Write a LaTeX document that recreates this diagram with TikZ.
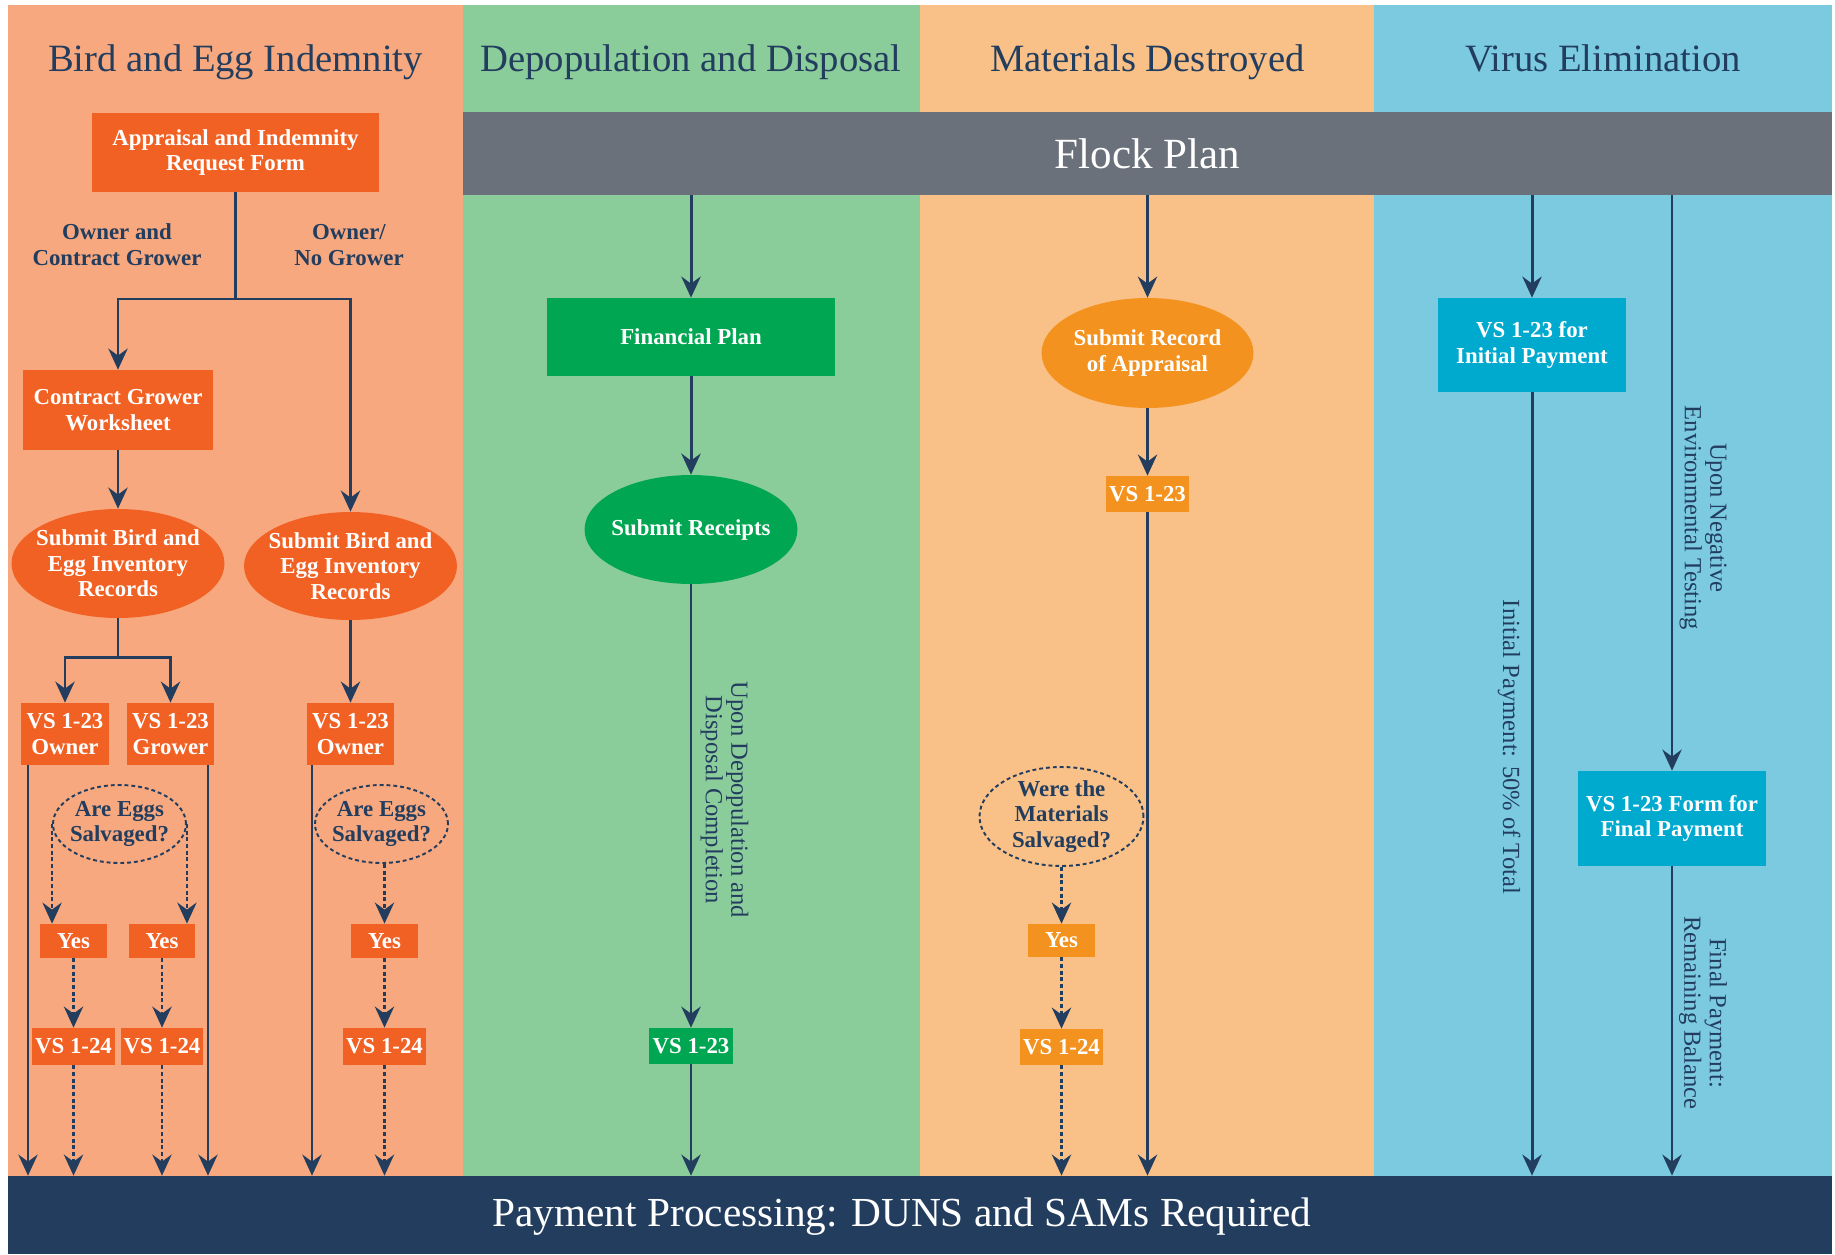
\documentclass[tikz,border=0pt]{standalone}
\usepackage{fontspec}
\setmainfont{Liberation Serif}
\usepackage{xcolor}
\usepackage{tikz}
\usetikzlibrary{arrows.meta, positioning, shapes.geometric}

\definecolor{navy}{RGB}{34,61,94}
\definecolor{colbird}{RGB}{248,168,126}
\definecolor{coldep}{RGB}{139,204,155}
\definecolor{colmat}{RGB}{249,193,135}
\definecolor{colvir}{RGB}{123,202,224}
\definecolor{flockgray}{RGB}{107,113,123}
\definecolor{boxorange}{RGB}{242,97,36}
\definecolor{boxgreen}{RGB}{0,166,81}
\definecolor{boxamber}{RGB}{243,146,31}
\definecolor{boxcyan}{RGB}{0,169,206}

\begin{document}
\begin{tikzpicture}[x=0.02cm, y=-0.02cm]
		\tikzstyle{box} = [rectangle, inner sep=0pt, text=white, align=center, font=\fontsize{13}{14.5}\selectfont\bfseries]
		\tikzstyle{oval} = [ellipse, inner xsep=-6pt, inner ysep=-3pt, text=white, align=center, font=\fontsize{13}{14.5}\selectfont\bfseries]
		\tikzstyle{ask} = [oval, draw=navy, line width=1.1pt, dash pattern=on 2.2pt off 1.7pt, text=navy]
		\tikzstyle{branch} = [text=navy, align=center, font=\fontsize{13}{14.8}\selectfont\bfseries]
		\tikzstyle{lanetitle} = [anchor=base, text=navy, font=\fontsize{22}{26}\selectfont]
		\tikzstyle{note} = [rotate=-90, align=center, text=navy, font=\fontsize{14}{14.5}\selectfont]
		\tikzstyle{arrow} = [draw=navy, line width=1.7pt, -{Stealth[length=12pt, width=11pt, inset=4pt]}]
		\tikzstyle{arrowthin} = [arrow, line width=1.3pt]
		\tikzstyle{darrow} = [arrow, line width=1.4pt, dash pattern=on 2.2pt off 1.6pt]

		\useasboundingbox (0,0) rectangle (1835,1254);
		\fill[white] (0,0) rectangle (1835,1254);
		\fill[colbird] (8,5) rectangle (463,1176);
		\fill[coldep] (463,5) rectangle (920,1176);
		\fill[colmat] (920,5) rectangle (1374,1176);
		\fill[colvir] (1374,5) rectangle (1832,1176);

		\node[lanetitle] (h1) at (235.5, 71) {Bird and Egg Indemnity};
		\node[lanetitle] (h2) at (691, 71) {Depopulation and Disposal};
		\node[lanetitle] (h3) at (1147.5, 71) {Materials Destroyed};
		\node[lanetitle] (h4) at (1603, 71) {Virus Elimination};

		\node[fill=flockgray, text=white, inner sep=0pt, minimum width=27.38cm, minimum height=1.66cm, font=\fontsize{24.5}{28}\selectfont] (flock) at (1147.5, 153.5) {Flock Plan};
		\node[fill=navy, inner sep=0pt, minimum width=36.48cm, minimum height=1.56cm] (pay) at (920, 1215) {};
		\node[text=white, font=\fontsize{23.5}{28}\selectfont] (paytext) at (902, 1217) {Payment Processing: DUNS and SAMs Required};

		\node[box, fill=boxorange, minimum width=5.74cm, minimum height=1.58cm] (o1) at (235.5, 152.5) {Appraisal and Indemnity\\Request Form};
		\node[branch] (l1) at (117, 245) {Owner and\\Contract Grower};
		\node[branch] (l2) at (349, 245) {Owner/\\No Grower};
		\node[box, fill=boxorange, minimum width=3.8cm, minimum height=1.6cm] (o2) at (118, 410) {Contract Grower\\Worksheet};
		\node[oval, fill=boxorange, minimum width=4.26cm, minimum height=2.18cm] (o3) at (118, 563.5) {Submit Bird and\\Egg Inventory\\Records};
		\node[oval, fill=boxorange, minimum width=4.26cm, minimum height=2.16cm] (o4) at (350.5, 566) {Submit Bird and\\Egg Inventory\\Records};
		\node[box, fill=boxorange, minimum width=1.76cm, minimum height=1.24cm] (o5) at (65, 734) {VS 1-23\\Owner};
		\node[box, fill=boxorange, minimum width=1.74cm, minimum height=1.24cm] (o6) at (170.5, 734) {VS 1-23\\Grower};
		\node[box, fill=boxorange, minimum width=1.76cm, minimum height=1.24cm] (o7) at (350.5, 734) {VS 1-23\\Owner};
		\node[ask, minimum width=2.66cm, minimum height=1.56cm] (o8) at (119.5, 824) {Are Eggs\\Salvaged?};
		\node[ask, minimum width=2.66cm, minimum height=1.56cm] (o9) at (381.5, 824) {Are Eggs\\Salvaged?};
		\node[box, fill=boxorange, minimum width=1.34cm, minimum height=0.68cm] (o10) at (73.5, 941) {Yes};
		\node[box, fill=boxorange, minimum width=1.34cm, minimum height=0.68cm] (o11) at (162, 941) {Yes};
		\node[box, fill=boxorange, minimum width=1.34cm, minimum height=0.68cm] (o12) at (384.5, 941) {Yes};
		\node[box, fill=boxorange, minimum width=1.66cm, minimum height=0.74cm] (o13) at (73.5, 1046.5) {VS 1-24};
		\node[box, fill=boxorange, minimum width=1.66cm, minimum height=0.74cm] (o14) at (162, 1046.5) {VS 1-24};
		\node[box, fill=boxorange, minimum width=1.66cm, minimum height=0.74cm] (o15) at (384.5, 1046.5) {VS 1-24};

		\node[box, fill=boxgreen, minimum width=5.76cm, minimum height=1.56cm] (g1) at (691, 337) {Financial Plan};
		\node[oval, fill=boxgreen, minimum width=4.26cm, minimum height=2.18cm] (g2) at (691, 529.5) {Submit Receipts};
		\node[box, fill=boxgreen, minimum width=1.68cm, minimum height=0.72cm] (g3) at (691, 1046) {VS 1-23};
		\node[note] (n1) at (724.5, 800) {Upon Depopulation and\\Disposal Completion};

		\node[oval, fill=boxamber, minimum width=4.24cm, minimum height=2.2cm] (m1) at (1147.5, 353) {Submit Record\\of Appraisal};
		\node[box, fill=boxamber, minimum width=1.66cm, minimum height=0.72cm] (m2) at (1147.5, 494) {VS 1-23};
		\node[ask, minimum width=3.28cm, minimum height=1.98cm] (m3) at (1061.5, 816.5) {Were the\\Materials\\Salvaged?};
		\node[box, fill=boxamber, minimum width=1.34cm, minimum height=0.66cm] (m4) at (1061.5, 940.5) {Yes};
		\node[box, fill=boxamber, minimum width=1.66cm, minimum height=0.72cm] (m5) at (1061.5, 1047) {VS 1-24};

		\node[box, fill=boxcyan, minimum width=3.76cm, minimum height=1.88cm] (v1) at (1532, 345) {VS 1-23 for\\Initial Payment};
		\node[box, fill=boxcyan, minimum width=3.76cm, minimum height=1.9cm] (v2) at (1672, 818.5) {VS 1-23 Form for\\Final Payment};
		\node[note] (n2) at (1509, 747) {Initial Payment: 50\% of Total};
		\node[note] (n3) at (1703, 518) {Upon Negative\\Environmental Testing};
		\node[note] (n4) at (1703, 1013) {Final Payment:\\Remaining Balance};

		\coordinate (j1) at (235.5, 299);
		\coordinate (j2) at (118, 657);
		\draw [arrow] (o1) -- (j1) -| (o2);
		\draw [arrow] (j1) -| (o4);
		\draw [arrow] (o2) -- (o3);
		\draw [arrow] (o3) -- (j2) -| (o5);
		\draw [arrow] (j2) -| (o6);
		\draw [arrow] (o4) -- (o7);
		\draw [arrow] (28,0 |- o5.south) -- (28,0 |- pay.north);
		\draw [arrow] (208,0 |- o6.south) -- (208,0 |- pay.north);
		\draw [arrow] (312,0 |- o7.south) -- (312,0 |- pay.north);
		\draw [darrow] (o8.west) -- (o8.west |- o10.north);
		\draw [darrow] (o8.east) -- (o8.east |- o11.north);
		\draw [darrow] (o9.south -| o12) -- (o12);
		\draw [darrow] (o10) -- (o13);
		\draw [darrow] (o11) -- (o14);
		\draw [darrow] (o12) -- (o15);
		\draw [darrow] (o13) -- (o13 |- pay.north);
		\draw [darrow] (o14) -- (o14 |- pay.north);
		\draw [darrow] (o15) -- (o15 |- pay.north);

		\draw [arrow] (flock.south -| g1) -- (g1);
		\draw [arrow] (g1) -- (g2);
		\draw [arrowthin] (g2) -- (g3);
		\draw [arrowthin] (g3) -- (g3 |- pay.north);

		\draw [arrowthin] (flock.south -| m1) -- (m1);
		\draw [arrowthin] (m1) -- (m2);
		\draw [arrowthin] (m2) -- (m2 |- pay.north);
		\draw [darrow] (m3) -- (m4);
		\draw [darrow] (m4) -- (m5);
		\draw [darrow] (m5) -- (m5 |- pay.north);

		\draw [arrow] (flock.south -| v1) -- (v1);
		\draw [arrow] (v1) -- (v1 |- pay.north);
		\draw [arrowthin] (flock.south -| v2) -- (v2);
		\draw [arrowthin] (v2) -- (v2 |- pay.north);
	\end{tikzpicture}
\end{document}
